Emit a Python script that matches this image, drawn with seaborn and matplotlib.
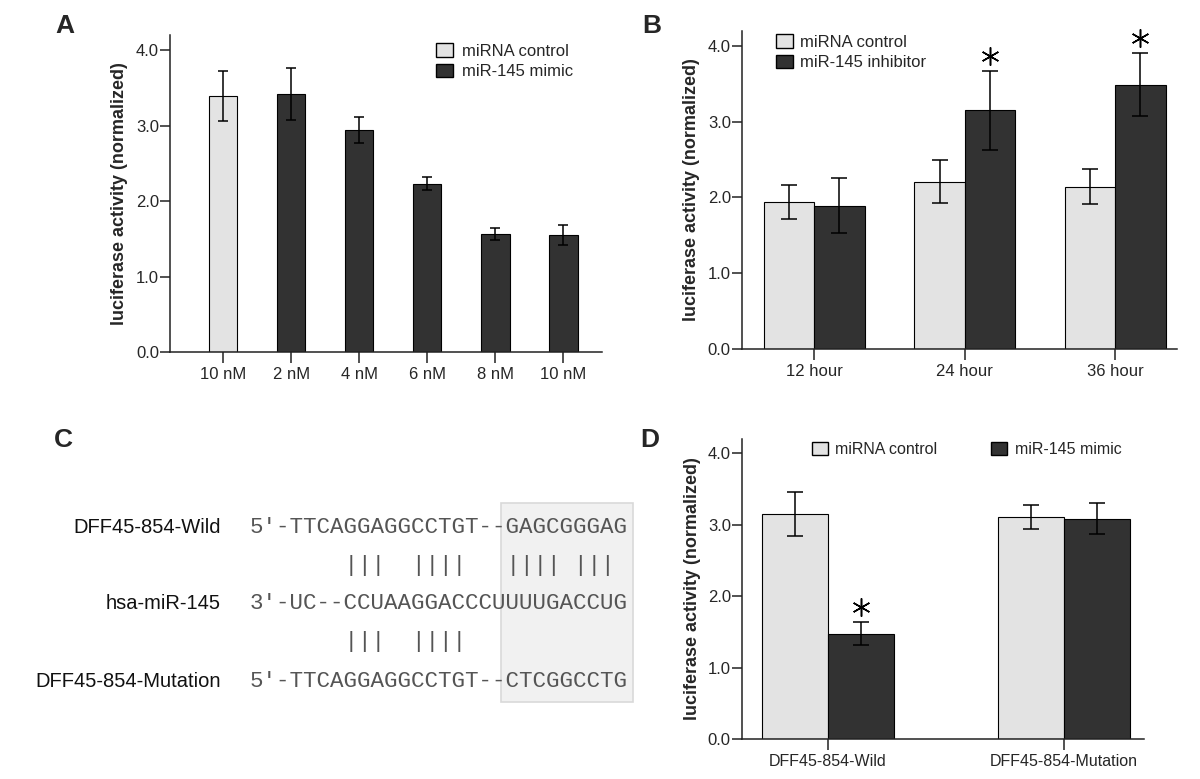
import matplotlib
matplotlib.use('Agg')
import matplotlib.pyplot as plt
import matplotlib.patches as mpatches
from matplotlib.transforms import offset_copy
import pandas as pd
import seaborn as sns

# Panel A: dose response (first bar is the control)
a_labels = ['10 nM', '2 nM', '4 nM', '6 nM', '8 nM', '10 nM']
a_groups = ['miRNA control', 'miR-145 mimic', 'miR-145 mimic', 'miR-145 mimic', 'miR-145 mimic', 'miR-145 mimic']
a_values = [3.39, 3.42, 2.94, 2.23, 1.56, 1.55]
a_errors = [0.33, 0.34, 0.17, 0.09, 0.08, 0.13]

# Panel B: time course
b_times = ['12 hour', '24 hour', '36 hour']
b_control = [1.94, 2.21, 2.14]
b_control_err = [0.23, 0.29, 0.23]
b_inhib = [1.89, 3.15, 3.49]
b_inhib_err = [0.36, 0.52, 0.41]
b_inhib_sig = [False, True, True]

# Panel D: wild vs mutation reporter
d_constructs = ['DFF45-854-Wild', 'DFF45-854-Mutation']
d_control = [3.15, 3.11]
d_control_err = [0.31, 0.165]
d_mimic = [1.475, 3.085]
d_mimic_err = [0.165, 0.215]
d_mimic_sig = [True, False]

# Panel C: sequence alignment
c_names = ['DFF45-854-Wild', 'hsa-miR-145', 'DFF45-854-Mutation']
c_seqs = ['5\u2032-TTCAGGAGGCCTGT--GAGCGGGAG',
          '3\u2032-UC--CCUAAGGACCCUUUUGACCUG',
          '5\u2032-TTCAGGAGGCCTGT--CTCGGCCTG']
c_pairs = ['       |||  ||||   |||| |||',
           '       |||  ||||']

light = '#e3e3e3'
dark = '#323232'

sns.set_style('ticks')
plt.rcParams['font.family'] = ['Liberation Sans', 'DejaVu Sans']

fig = plt.figure(figsize=(12, 7.79), dpi=100)


def style_axis(ax, xlim, label_x):
    sns.despine(ax=ax)
    for s in ['left', 'bottom']:
        ax.spines[s].set_linewidth(1.1)
        ax.spines[s].set_color('#222222')
    ax.set_ylim(0, 4.2)
    ax.set_xlim(*xlim)
    ax.set_yticks([0, 1, 2, 3, 4])
    ax.set_yticklabels(['0.0', '1.0', '2.0', '3.0', '4.0'])
    ax.tick_params(axis='y', length=7, width=1.1, pad=1, labelsize=12, color='#222222')
    ax.tick_params(axis='x', length=8, width=1.1, pad=3, labelsize=12, color='#222222')
    ax.set_xlabel('')
    ax.set_ylabel('luciferase activity (normalized)', fontsize=13, fontweight='bold')
    ax.yaxis.set_label_coords(label_x, 0.5)


def add_errors(ax, df, hue_order, capsize):
    for cont, grp in zip(ax.containers, hue_order):
        sub = df[df['group'] == grp].reset_index(drop=True)
        for bar, (_, row) in zip(cont, sub.iterrows()):
            cx = bar.get_x() + bar.get_width() / 2
            ax.errorbar(cx, row['value'], yerr=row['err'], fmt='none', ecolor='black',
                        elinewidth=1.1, capsize=capsize, capthick=1.1, zorder=3)
            if row.get('sig', False):
                tr = offset_copy(ax.transData, fig=fig, y=15, units='dots')
                ax.plot(cx, row['value'] + row['err'], marker=(6, 2, 0), ms=13, mew=1.1,
                        color='black', transform=tr, clip_on=False)


def legend_handles(names):
    return [mpatches.Patch(facecolor=c, edgecolor='black', linewidth=1.0, label=n)
            for c, n in zip([light, dark], names)]


# ---- Panel A
ax_a = fig.add_axes([0.1417, 0.5481, 0.36, 0.407])
df_a = pd.DataFrame({'slot': list(range(len(a_values))), 'group': a_groups,
                     'value': a_values, 'err': a_errors})
a_order = ['miRNA control', 'miR-145 mimic']
sns.barplot(data=df_a, x='slot', y='value', hue='group', hue_order=a_order,
            palette=[light, dark], dodge=False, width=0.42, errorbar=None,
            edgecolor='black', linewidth=0.8, legend=False, ax=ax_a)
add_errors(ax_a, df_a, a_order, 3.5)
style_axis(ax_a, (-0.78, 5.57), -0.097)
ax_a.set_xticklabels(a_labels)
ax_a.legend(handles=legend_handles(a_order), loc='upper left', bbox_to_anchor=(0.616, 0.975),
            frameon=False, fontsize=12, handlelength=1.0, handleheight=0.9,
            handletextpad=0.55, labelspacing=0.3, borderpad=0, borderaxespad=0)

# ---- Panel B
ax_b = fig.add_axes([0.6183, 0.552, 0.3625, 0.4086])
b_order = ['miRNA control', 'miR-145 inhibitor']
df_b = pd.DataFrame({'time': b_times * 2,
                     'group': [b_order[0]] * 3 + [b_order[1]] * 3,
                     'value': b_control + b_inhib,
                     'err': b_control_err + b_inhib_err,
                     'sig': [False] * 3 + b_inhib_sig})
sns.barplot(data=df_b, x='time', y='value', hue='group', hue_order=b_order,
            palette=[light, dark], width=0.67, errorbar=None,
            edgecolor='black', linewidth=0.8, legend=False, ax=ax_b)
add_errors(ax_b, df_b, b_order, 6)
style_axis(ax_b, (-0.48, 2.41), -0.097)
ax_b.legend(handles=legend_handles(b_order), loc='upper left', bbox_to_anchor=(0.078, 0.99),
            frameon=False, fontsize=12, handlelength=1.0, handleheight=0.9,
            handletextpad=0.45, labelspacing=0.3, borderpad=0, borderaxespad=0)

# ---- Panel D
ax_d = fig.add_axes([0.6183, 0.0513, 0.3347, 0.3852])
d_order = ['miRNA control', 'miR-145 mimic']
df_d = pd.DataFrame({'construct': d_constructs * 2,
                     'group': [d_order[0]] * 2 + [d_order[1]] * 2,
                     'value': d_control + d_mimic,
                     'err': d_control_err + d_mimic_err,
                     'sig': [False] * 2 + d_mimic_sig})
sns.barplot(data=df_d, x='construct', y='value', hue='group', hue_order=d_order,
            palette=[light, dark], width=0.56, errorbar=None,
            edgecolor='black', linewidth=0.8, legend=False, ax=ax_d)
add_errors(ax_d, df_d, d_order, 6)
style_axis(ax_d, (-0.364, 1.337), -0.102)
ax_d.tick_params(axis='x', labelsize=11.5)
ax_d.legend(handles=legend_handles(d_order), loc='upper left', bbox_to_anchor=(0.174, 0.99),
            frameon=False, fontsize=11.5, ncol=2, handlelength=1.0, handleheight=0.9,
            handletextpad=0.45, columnspacing=3.4, borderpad=0, borderaxespad=0)

# ---- Panel C (pixel coordinates of the figure)
ax_c = fig.add_axes([0, 0, 1, 1])
ax_c.set_xlim(0, 1200)
ax_c.set_ylim(779, 0)
ax_c.axis('off')
ax_c.set_zorder(-1)

seq_size = 16.2
pitch = seq_size * 100 / 72 * 0.6
seq_x = 250
mono = ['Liberation Mono', 'DejaVu Sans Mono']
row_y = [533, 609, 687]
pair_y = [566, 642]

ax_c.add_patch(mpatches.Rectangle((seq_x + 18.6 * pitch, 503), 9.8 * pitch, 199,
                                  facecolor='#f1f1f1', edgecolor='#d9d9d9', linewidth=1.2))
for name, seq, y in zip(c_names, c_seqs, row_y):
    ax_c.text(221, y, name, fontsize=14.5, ha='right', va='baseline', color='#111111')
    ax_c.text(seq_x, y, seq, fontsize=seq_size, family=mono, ha='left', va='baseline', color='#555555')
for pairs, y in zip(c_pairs, pair_y):
    ax_c.text(seq_x, y, pairs, fontsize=seq_size, family=mono, ha='left', va='center', color='#555555')

# panel letters
for letter, x, y in [('A', 55, 33), ('B', 642, 33), ('C', 54, 447), ('D', 640, 447)]:
    fig.text(x / 1200, 1 - y / 779, letter, fontsize=19, fontweight='bold', va='baseline')

fig.savefig('out.png', dpi=100)
